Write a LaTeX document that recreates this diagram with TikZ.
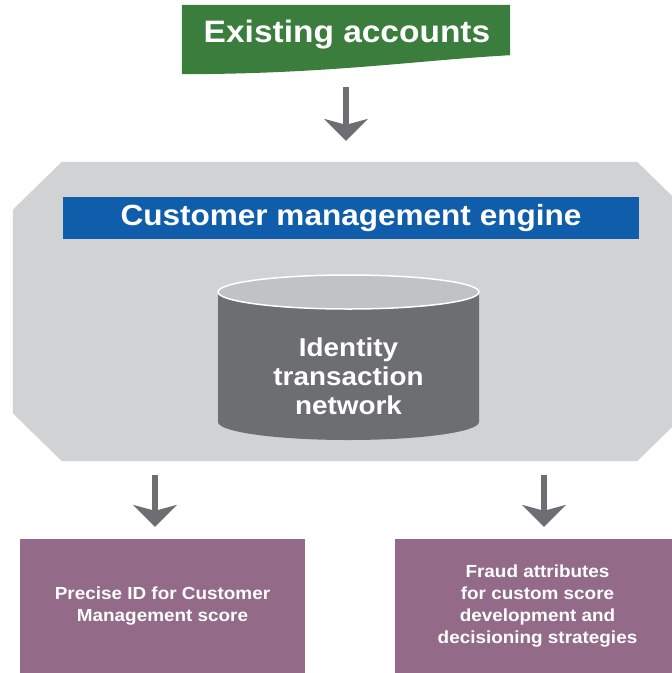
\documentclass[tikz,border=0pt]{standalone}
\usepackage{fontspec}
\newfontfamily\diagfont[FakeStretch=1.08]{Liberation Sans}
\usetikzlibrary{arrows.meta,positioning}

\definecolor{accountgreen}{HTML}{3A7D3C}
\definecolor{enginegray}{HTML}{D1D2D4}
\definecolor{titleblue}{HTML}{105EAB}
\definecolor{storegray}{HTML}{6D6E71}
\definecolor{storetop}{HTML}{C1C2C4}
\definecolor{outputpurple}{HTML}{936B89}

\begin{document}
\begin{tikzpicture}[x=1pt,y=-1pt,
    every node/.style={font=\diagfont\bfseries, text=white, inner sep=0pt},
    banner/.style={minimum width=328pt, minimum height=69pt},
    engine/.style={minimum width=673pt, minimum height=299pt},
    titlebar/.style={fill=titleblue, minimum width=576pt, minimum height=42pt},
    output/.style={fill=outputpurple, minimum width=285pt, minimum height=134pt,
        align=center, font=\diagfont\bfseries\fontsize{17.5}{22}\selectfont},
    flow/.style={draw=storegray, line width=6pt,
        -{Stealth[length=22pt,width=44pt,inset=6pt,line width=0pt]}}]
\useasboundingbox (0,0) rectangle (672,673);
\clip (0,0) rectangle (672,673);

% input banner with its curled lower edge
\node[banner] (accounts) at (346,39.5) {};
\fill[accountgreen] (accounts.north west) -- (accounts.north east)
    -- ([yshift=19pt]accounts.south east)
    .. controls (420,60) and (330,74) .. (accounts.south west) -- cycle;
\node[font=\diagfont\bfseries\fontsize{31}{36}\selectfont] at (347,35) {Existing accounts};

% engine block, an octagon with 49pt corner cuts
\node[engine] (engine) at (349.5,311.5) {};
\fill[enginegray] ([xshift=49pt]engine.north west) -- ([xshift=-49pt]engine.north east)
    -- ([yshift=-48pt]engine.north east) -- ([yshift=48pt]engine.south east)
    -- ([xshift=-49pt]engine.south east) -- ([xshift=49pt]engine.south west)
    -- ([yshift=48pt]engine.south west) -- ([yshift=-48pt]engine.north west) -- cycle;
\node[titlebar, font=\diagfont\bfseries\fontsize{29.2}{34}\selectfont]
    (title) at (351,218) {Customer management engine};

% data store
\fill[storegray] (218,292) -- (218,422) arc (180:0:130.5 and 18) -- (479,292) -- cycle;
\draw[white, line width=1.5pt, fill=storetop] (348.5,292) ellipse (130.5 and 17);
\node[align=center, font=\diagfont\bfseries\fontsize{25.8}{29}\selectfont]
    (network) at (348.5,376) {Identity\\transaction\\network};

% outputs
\node[output] (precise) at (162.5,606) {Precise ID for Customer\\Management score};
\node[output] (fraud) at (537.5,606)
    {Fraud attributes\\for custom score\\development and\\decisioning strategies};

\draw[flow, shorten <=13pt, shorten >=21pt] (accounts.south |- 0,74) -- (accounts.south |- engine.north);
\draw[flow, shorten <=14pt, shorten >=12pt]
    ([xshift=-7.5pt]precise.north |- engine.south) -- ([xshift=-7.5pt]precise.north);
\draw[flow, shorten <=14pt, shorten >=12pt]
    ([xshift=6.5pt]fraud.north |- engine.south) -- ([xshift=6.5pt]fraud.north);
\end{tikzpicture}
\end{document}
